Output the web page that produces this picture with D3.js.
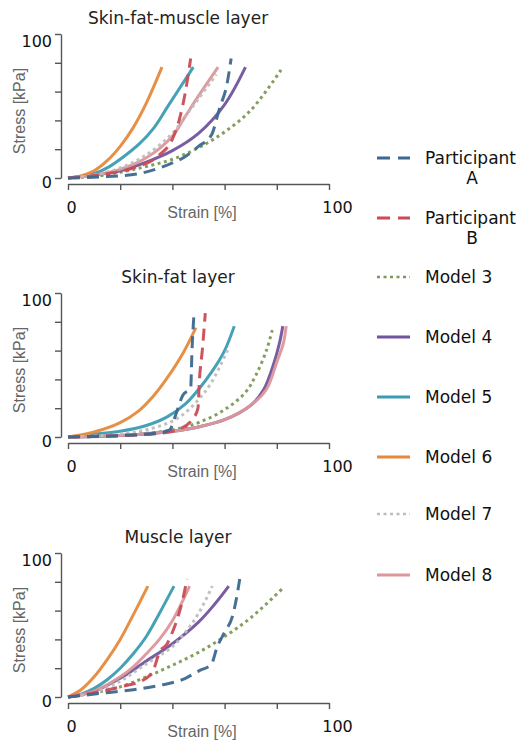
<!DOCTYPE html>
<html>
<head>
<meta charset="utf-8">
<script src="https://cdn.jsdelivr.net/npm/d3@7"></script>
<style>
  body { margin: 0; background: #fff; }
  svg { display: block; }
</style>
</head>
<body>
<script>
// series names, legend order
const seriesNames = ["Participant A", "Participant B", "Model 3", "Model 4", "Model 5", "Model 6", "Model 7", "Model 8"]
const panelTitles = ["Skin-fat-muscle layer", "Skin-fat layer", "Muscle layer"]
const xTicks = [0, 20, 40, 60, 80, 100]
const yTicks = [0, 20, 40, 60, 80, 100]

// skin-fat-muscle layer  [strain %, stress kPa]
const sfmA = [[0,0],[15,1],[27,3],[38,9],[45,15],[50,22],[55,30],[58,48],[61,66],[62.5,83]]
const sfmB = [[0,0],[15,3],[25,7],[35,16],[40,27],[43,43],[45,60],[47,83]]
const sfm3 = [[0,0],[10,1],[20,4],[30,8],[40,13],[50,21],[60,32],[70,47],[82,76]]
const sfm4 = [[0,0],[10,2],[20,5],[30,11],[40,19],[50,31],[60,51],[68,77]]
const sfm5 = [[0,0],[10,3],[15,7],[20,13],[27.5,24],[33,35],[38,49],[43,63],[48,77]]
const sfm6 = [[0,0],[5,1.5],[10,5],[15,12],[20,22],[25,35],[30,52],[36,77]]
const sfm7 = [[0,0],[10,2],[20,7],[30,16],[40,31],[45,43],[50,55],[56.8,72]]
const sfm8 = [[0,0],[10,2],[20,6],[30,14],[40,29],[45,43],[50,57],[57.5,77]]

// skin-fat layer
const sfA = [[0,0],[20,1],[35,3],[39,5],[41,14],[44,29],[47,34],[47.5,60],[48.3,86]]
const sfB = [[0,0],[20,1],[35,2.5],[42,5],[48,13],[49.8,20],[50.3,38],[51.5,61],[52.6,86]]
const sf3 = [[0,0],[20,1],[40,5],[50,10],[60,19],[68,31],[72,43],[76,60],[78.5,76]]
const sf4 = [[0,0],[20,1],[40,4],[50,7],[60,12],[70,22],[75,33],[79,52],[81,65],[82.3,77]]
const sf5 = [[0,0],[10,2],[20,4],[30,8],[38,14],[45,23],[50,33],[55,45],[60,60],[63.7,77]]
const sf6 = [[0,0],[10,3.5],[20,10],[27,18],[33,29],[38,41],[44,58],[49,76]]
const sf7 = [[0,0],[20,2],[30,5],[40,11],[45,17],[50,26],[55,38],[61.8,63]]
const sf8 = [[0,0],[20,1],[40,4],[50,7],[60,12],[70,22],[76,33],[80,52],[82.5,65],[83.6,77]]

// muscle layer
const mA = [[0,0],[15,3],[25,5],[35,8],[45,13],[50,18],[55,23],[57,34],[60,45],[63,56],[64.5,68],[65.8,82]]
const mB = [[0,0],[10,3],[20,7],[30,13],[33,20],[35,31],[38,37],[40,45],[42,55],[44,68],[45.6,82]]
const m3 = [[0,0],[10,3],[20,7],[30,14],[40,22],[50,31],[60,42],[70,55],[82,75]]
const m4 = [[0,0],[10,4],[20,13],[30,25],[40,37],[50,52],[56,64],[61.6,77]]
const m5 = [[0,0],[5,2],[10,6],[15,12],[20,20],[25,30],[30,42],[35,58],[40.6,77]]
const m6 = [[0,0],[5,5],[10,14],[15,26],[20,40],[25,57],[30.6,77]]
const m7 = [[0,0],[10,3],[20,11],[30,23],[40,35],[45,45],[50,58],[55.3,77]]
const m8 = [[0,0],[10,4],[20,14],[25,21],[30,30],[35,40],[40,53],[46.6,77]]

const panelData = [
  [sfmA, sfmB, sfm3, sfm4, sfm5, sfm6, sfm7, sfm8],
  [sfA, sfB, sf3, sf4, sf5, sf6, sf7, sf8],
  [mA, mB, m3, m4, m5, m6, m7, m8]
]

const colors = ["#3d6890", "#c94c55", "#7d9a52", "#71559c", "#3a9cb2", "#e58a3c", "#bdbdbd", "#dc979c"]
const dashes = ["12,7", "12,7", "3,3.5", null, null, null, "3,3.5", null]
const drawOrder = [2, 3, 4, 5, 7, 6, 1, 0]

const W = 527, H = 744
const svg = d3.select("body").append("svg").attr("width", W).attr("height", H)

const panelTop = [34, 293, 553]
const plotH = 144

const x = d3.scaleLinear().domain([0, 100]).range([68, 329])

panelTitles.forEach((title, p) => {
  const top = panelTop[p]
  const y = d3.scaleLinear().domain([0, 100]).range([top + plotH, top])
  const g = svg.append("g")

  // title
  g.append("text")
    .attr("x", 178).attr("y", top - 10)
    .attr("text-anchor", "middle")
    .style("font-family", "DejaVu Sans").style("font-size", "17px")
    .style("fill", "#222")
    .text(title)

  // y axis
  const ya = g.append("g").attr("transform", "translate(61,0)")
    .call(d3.axisLeft(y).tickValues(yTicks).tickSize(6).tickSizeOuter(0).tickPadding(3)
      .tickFormat(d => (d === 0 || d === 100) ? d : ""))
  ya.selectAll("text").attr("dy", (d) => d === 100 ? "0.75em" : "0.6em")
    .style("font-family", "DejaVu Sans").style("font-size", "16px").style("fill", "#111")

  // x axis
  const xa = g.append("g").attr("transform", `translate(0,${top + plotH + 6})`)
    .call(d3.axisBottom(x).tickValues(xTicks).tickSize(6).tickSizeOuter(0).tickPadding(12)
      .tickFormat(d => (d === 0 || d === 100) ? d : ""))
  xa.selectAll("text")
    .attr("dx", d => d === 100 ? 8 : 3)
    .style("font-family", "DejaVu Sans").style("font-size", "16px").style("fill", "#111")

  svg.selectAll(".domain, .tick line").attr("stroke", "#555").attr("stroke-width", 1.4)

  // axis titles
  g.append("text")
    .attr("transform", `translate(25,${top + plotH / 2 + 5}) rotate(-90)`)
    .attr("text-anchor", "middle")
    .style("font-family", "Liberation Sans").style("font-size", "16px").style("fill", "#666")
    .text("Stress [kPa]")
  g.append("text")
    .attr("x", 202).attr("y", top + plotH + 40)
    .attr("text-anchor", "middle")
    .style("font-family", "Liberation Sans").style("font-size", "16px").style("fill", "#666")
    .text("Strain [%]")

  // models are smooth fits, participants keep their kinks
  const smooth = d3.line()
    .x(d => x(d[0])).y(d => y(d[1]))
    .curve(d3.curveCatmullRom.alpha(0.5))
  const measured = d3.line()
    .x(d => x(d[0])).y(d => y(d[1]))
    .curve(d3.curveMonotoneX)

  drawOrder.forEach(i => {
    g.append("path")
      .datum(panelData[p][i])
      .attr("d", i < 2 ? measured : smooth)
      .attr("fill", "none")
      .attr("stroke", colors[i])
      .attr("stroke-width", 3)
      .attr("stroke-dasharray", dashes[i])
      .attr("opacity", 0.95)
  })
})

// legend
const legY = [158, 218, 277, 337, 397, 457, 514, 575]
const legend = svg.append("g")
seriesNames.forEach((name, i) => {
  legend.append("line")
    .attr("x1", 377).attr("x2", 410)
    .attr("y1", legY[i]).attr("y2", legY[i])
    .attr("stroke", colors[i])
    .attr("stroke-width", dashes[i] === "3,3.5" ? 2.5 : 3)
    .attr("stroke-dasharray", i < 2 ? "13,8" : dashes[i])
  const txt = legend.append("text")
    .attr("y", legY[i])
    .attr("dy", "0.35em")
    .style("font-family", "DejaVu Sans").style("font-size", "17px").style("fill", "#111")
  if (i < 2) {
    const parts = name.split(" ")
    txt.attr("x", 425).text(parts[0])
    legend.append("text")
      .attr("x", 472).attr("y", legY[i] + 20).attr("dy", "0.35em")
      .attr("text-anchor", "middle")
      .style("font-family", "DejaVu Sans").style("font-size", "17px").style("fill", "#111")
      .text(parts[1])
  } else {
    txt.attr("x", 425).text(name)
  }
})
</script>
</body>
</html>
